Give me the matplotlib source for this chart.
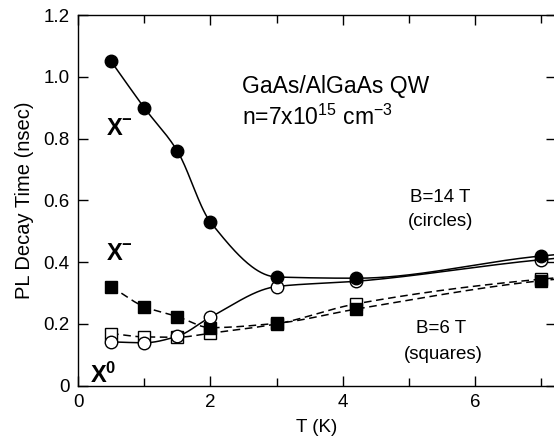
import numpy as np
import matplotlib
matplotlib.use("Agg")
import matplotlib.pyplot as plt
from matplotlib.ticker import MultipleLocator

plt.rcParams['font.family'] = ['Liberation Sans', 'DejaVu Sans']
plt.rcParams['mathtext.fontset'] = 'custom'
plt.rcParams['mathtext.rm'] = 'Liberation Sans'
plt.rcParams['mathtext.bf'] = 'Liberation Sans:bold'

# temperatures (K)
T = [0.5, 1.0, 1.5, 2.0, 3.0, 4.2, 7.0, 10.0]
# B = 14 T, circles
x_minus_14 = [1.05, 0.90, 0.76, 0.53, 0.352, 0.348, 0.42, 0.47]
x_zero_14 = [0.142, 0.139, 0.160, 0.222, 0.321, 0.338, 0.408, 0.46]
# B = 6 T, squares
x_minus_6 = [0.321, 0.256, 0.224, 0.188, 0.202, 0.248, 0.340, 0.39]
x_zero_6 = [0.169, 0.158, 0.157, 0.170, 0.200, 0.265, 0.345, 0.39]
ytick_labels = ['0', '0.2', '0.4', '0.6', '0.8', '1.0', '1.2']


def pchip(x, y, xs):
    # monotone cubic curve through the measured points
    x = np.asarray(x, float)
    y = np.asarray(y, float)
    h = np.diff(x)
    d = np.diff(y) / h
    m = np.zeros_like(y)
    for k in range(1, len(x) - 1):
        if d[k - 1] * d[k] > 0:
            w1 = 2 * h[k] + h[k - 1]
            w2 = h[k] + 2 * h[k - 1]
            m[k] = (w1 + w2) / (w1 / d[k - 1] + w2 / d[k])
    m[0] = d[0]
    m[-1] = d[-1]
    idx = np.clip(np.searchsorted(x, xs) - 1, 0, len(x) - 2)
    t = (xs - x[idx]) / h[idx]
    h00 = 2 * t**3 - 3 * t**2 + 1
    h10 = t**3 - 2 * t**2 + t
    h01 = -2 * t**3 + 3 * t**2
    h11 = t**3 - t**2
    return (h00 * y[idx] + h10 * h[idx] * m[idx] + h01 * y[idx + 1]
            + h11 * h[idx] * m[idx + 1])


xs = np.linspace(T[0], T[-1], 600)

fig = plt.figure(figsize=(5.54, 4.47), dpi=100)
ax = fig.add_axes([0.1408, 0.1371, 0.8628, 0.8293])

lw = 1.1
ax.plot(xs, pchip(T, x_zero_6, xs), color='black', lw=lw, dashes=(5, 3))
ax.plot(xs, pchip(T, x_minus_6, xs), color='black', lw=lw, dashes=(5, 3))
ax.plot(xs, pchip(T, x_zero_14, xs), color='black', lw=lw)
ax.plot(xs, pchip(T, x_minus_14, xs), color='black', lw=lw)

ax.plot(T, x_zero_6, 's', ms=8.5, mfc='white', mec='black', mew=1.0, ls='none')
ax.plot(T, x_minus_6, 's', ms=8.5, mfc='black', mec='black', ls='none')
ax.plot(T, x_zero_14, 'o', ms=9, mfc='white', mec='black', mew=1.0, ls='none')
ax.plot(T, x_minus_14, 'o', ms=9, mfc='black', mec='black', ls='none')

ax.set_xlim(0, 7.22)
ax.set_ylim(0, 1.2)
ax.xaxis.set_major_locator(MultipleLocator(2))
ax.xaxis.set_minor_locator(MultipleLocator(1))
ax.set_yticks(np.arange(0, 1.21, 0.2))
ax.set_yticklabels(ytick_labels)
ax.tick_params(which='both', direction='in', top=True, right=True,
               labelsize=13.5, width=1.0)
ax.tick_params(which='major', length=7, pad=6)
ax.tick_params(which='minor', length=6)
ax.tick_params(axis='y', which='minor', length=0)
for s in ax.spines.values():
    s.set_linewidth(1.0)

ax.set_xlabel('T (K)', fontsize=13.5, labelpad=6)
ax.set_ylabel('PL Decay Time (nsec)', fontsize=14.5, labelpad=7)

ax.text(0.42, 0.83, r'$\mathbf{X^{-}}$', fontsize=17, va='center')
ax.text(0.42, 0.425, r'$\mathbf{X^{-}}$', fontsize=17, va='center')
ax.text(0.18, 0.035, r'$\mathbf{X^{0}}$', fontsize=17, va='center')

ax.text(2.48, 0.97, 'GaAs/AlGaAs QW', fontsize=16.5, va='center')
ax.text(2.48, 0.87, r'n=7x10$^{15}$ cm$^{-3}$', fontsize=16.5, va='center')

ax.text(5.47, 0.61, 'B=14 T', fontsize=13.5, ha='center', va='center')
ax.text(5.47, 0.533, '(circles)', fontsize=13.5, ha='center', va='center')
ax.text(5.48, 0.185, 'B=6 T', fontsize=13.5, ha='center', va='center')
ax.text(5.52, 0.102, '(squares)', fontsize=13.5, ha='center', va='center')

fig.savefig('out.png', dpi=100)
